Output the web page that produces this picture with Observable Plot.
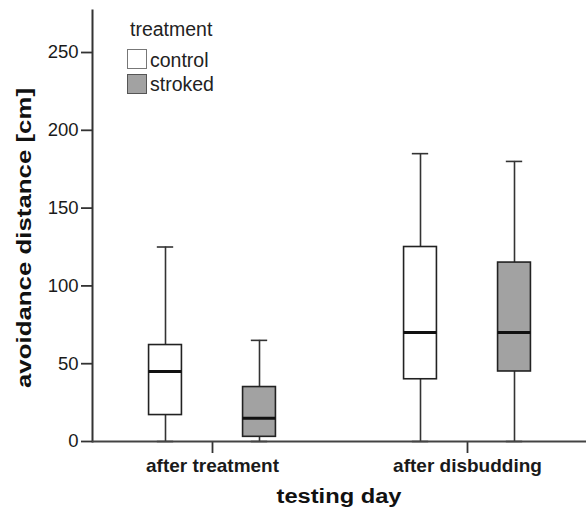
<!DOCTYPE html>
<html><head><meta charset="utf-8">
<script src="https://cdn.jsdelivr.net/npm/d3@7"></script>
<script src="https://cdn.jsdelivr.net/npm/@observablehq/plot@0.6"></script>
<style>
body{margin:0;background:#fff;}
#wrap{position:relative;width:586px;height:511px;}
.lg{position:absolute;font-family:"Liberation Sans",Arial,sans-serif;color:#222;font-size:19.5px;line-height:1;white-space:nowrap;}
.sw{position:absolute;width:18px;height:18px;border:1.5px solid #666;}
</style></head><body><div id="wrap"></div>
<script>
// ---- data ----
const days = ["after treatment", "after disbudding"];
const treatments = ["control", "stroked"];
const fills = ["#ffffff", "#a2a2a2"];
const controlMin = [0, 0];
const controlQ1 = [17, 40];
const controlMedian = [45, 70];
const controlQ3 = [62, 125];
const controlMax = [125, 185];
const strokedMin = [0, 0];
const strokedQ1 = [3, 45];
const strokedMedian = [15, 70];
const strokedQ3 = [35, 115];
const strokedMax = [65, 180];
const yTicks = [0, 50, 100, 150, 200, 250];
const xTitle = "testing day";
const yTitle = "avoidance distance [cm]";
const legendTitle = "treatment";

const series = {
  control: {min: controlMin, q1: controlQ1, median: controlMedian, q3: controlQ3, max: controlMax},
  stroked: {min: strokedMin, q1: strokedQ1, median: strokedMedian, q3: strokedQ3, max: strokedMax}
};
const table = t => days.map((d, i) => ({
  day: d, treatment: t,
  min: series[t].min[i], q1: series[t].q1[i], median: series[t].median[i],
  q3: series[t].q3[i], max: series[t].max[i]
}));

// ---- layout ----
const W = 586, H = 511, ML = 92, MR = 0, MT = 10, MB = 70;
const pInner = 0.2, pOuter = 0.0656;
const step = (W - ML - MR) / (days.length - pInner + 2 * pOuter);
const bw = step * (1 - pInner);
const boxW = 33.5, capW = 17, offset = 47;
const boxInset = (bw - boxW) / 2, capInset = (bw - capW) / 2;
const font = '"Liberation Sans", Arial, sans-serif';

const boxMarks = treatments.flatMap((t, i) => {
  const rows = table(t);
  const dx = i === 0 ? -offset : offset;
  return [
    Plot.ruleX(rows, {x: "day", y1: "min", y2: "q1", dx, stroke: "#333", strokeWidth: 1.6}),
    Plot.ruleX(rows, {x: "day", y1: "q3", y2: "max", dx, stroke: "#333", strokeWidth: 1.6}),
    Plot.tickY(rows, {x: "day", y: "max", dx, insetLeft: capInset, insetRight: capInset, stroke: "#333", strokeWidth: 1.6}),
    Plot.tickY(rows, {x: "day", y: "min", dx, insetLeft: capInset, insetRight: capInset, stroke: "#333", strokeWidth: 1.6}),
    Plot.barY(rows, {x: "day", y1: "q1", y2: "q3", dx, fill: fills[i], stroke: "#222", strokeWidth: 1.6, insetLeft: boxInset, insetRight: boxInset}),
    Plot.tickY(rows, {x: "day", y: "median", dx, insetLeft: boxInset, insetRight: boxInset, stroke: "#111", strokeWidth: 3})
  ];
});

const chart = Plot.plot({
  width: W, height: H,
  marginLeft: ML, marginRight: MR, marginTop: MT, marginBottom: MB,
  style: {fontFamily: font, color: "#1a1a1a", background: "#fff", overflow: "visible"},
  x: {type: "band", domain: days, paddingInner: pInner, paddingOuter: pOuter, label: null},
  y: {domain: [0, 277], label: null},
  marks: [
    Plot.axisY({ticks: yTicks, tickSize: 11, tickPadding: 3, fontSize: 18.5, stroke: "#333", strokeWidth: 1.8, label: null}),
    Plot.axisX({tickSize: 12, tickPadding: 5, fontSize: 19, fontWeight: "bold", stroke: "#333", strokeWidth: 1.8, label: null}),
    ...boxMarks,
    Plot.frame({anchor: "left", stroke: "#333", strokeWidth: 2}),
    Plot.ruleY([0], {stroke: "#444", strokeWidth: 2})
  ]
});

const wrap = document.getElementById("wrap");
wrap.appendChild(chart);

// axis titles (stretched bold text, as in the reference)
const svg = d3.select(chart);
svg.append("text")
  .attr("x", ML + (W - ML - MR) / 2).attr("y", 503)
  .attr("text-anchor", "middle")
  .attr("font-family", font).attr("font-weight", "bold").attr("font-size", 20)
  .attr("fill", "#111")
  .attr("textLength", 125).attr("lengthAdjust", "spacingAndGlyphs")
  .text(xTitle);
svg.append("text")
  .attr("transform", "translate(31,238) rotate(-90)")
  .attr("text-anchor", "middle")
  .attr("font-family", font).attr("font-weight", "bold").attr("font-size", 21)
  .attr("fill", "#111")
  .attr("textLength", 300).attr("lengthAdjust", "spacingAndGlyphs")
  .text(yTitle);

// legend overlay
const lg = d3.select(wrap);
lg.append("div").attr("class", "lg").style("left", "130px").style("top", "20px").text(legendTitle);
treatments.forEach((t, i) => {
  lg.append("div").attr("class", "sw")
    .style("left", "127px").style("top", (49 + i * 25) + "px")
    .style("background", fills[i])
    .style("border-color", i === 0 ? "#777" : "#555");
  lg.append("div").attr("class", "lg")
    .style("left", "150px").style("top", (51 + i * 24) + "px").text(t);
});
</script>
</body></html>
